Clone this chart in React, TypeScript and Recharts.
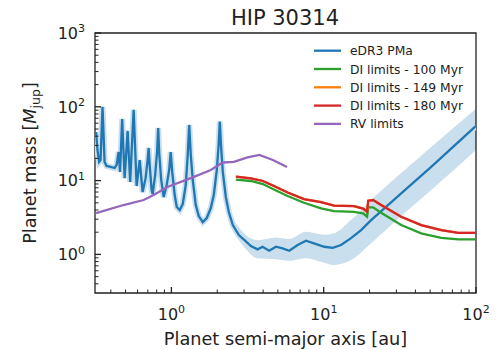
import { ComposedChart, Line, Area, XAxis, YAxis, ReferenceArea } from 'recharts';

// [semi-major axis (au), mass (Mjup)]
const pmaCurve: [number, number][] = [
  [0.32, 45.6], [0.327, 26], [0.335, 17.9], [0.3425, 19], [0.353, 100], [0.364, 17.9],
  [0.375, 15.8], [0.399, 15.3], [0.424, 14.8], [0.437, 16.3], [0.45, 24.4], [0.46, 13.1],
  [0.475, 68.5], [0.493, 10.8], [0.516, 47.1], [0.536, 9.57], [0.565, 90.8], [0.591, 8.45],
  [0.619, 19], [0.647, 7.0], [0.677, 10.8], [0.698, 19], [0.709, 27.7], [0.72, 16.3],
  [0.742, 7.4], [0.753, 6.58], [0.782, 11.9], [0.806, 25], [0.819, 51.7], [0.831, 24],
  [0.857, 10.2], [0.89, 5.99], [0.931, 8.71], [0.967, 13.9], [0.989, 24.4], [1.012, 13.1],
  [1.051, 6.38], [1.084, 4.38], [1.134, 3.99], [1.187, 4.81], [1.242, 8.71], [1.28, 22.3],
  [1.309, 56.8], [1.34, 22.3], [1.381, 10.2], [1.445, 4.67], [1.512, 3.31], [1.607, 2.74],
  [1.707, 3.11], [1.814, 4.25], [1.898, 6.38], [1.986, 13.9], [2.041, 30], [2.078, 63],
  [2.117, 30], [2.175, 13.1], [2.276, 6.0], [2.382, 3.75], [2.531, 2.5], [2.772, 1.83],
  [3.083, 1.5], [3.325, 1.3], [3.68, 1.17], [3.968, 1.27], [4.386, 1.12], [4.857, 1.27],
  [5.374, 1.21], [5.94, 1.12], [6.746, 1.34], [7.648, 1.53], [8.634, 1.41], [10.09, 1.27],
  [11.46, 1.23], [13.0, 1.34], [15.12, 1.66], [17.6, 2.14], [20.48, 2.92], [32.26, 6.7],
  [50.8, 15.4], [100, 55],
];

// [a, low, high]
const pmaBand: [number, number, number][] = [
  [2.53, 2.07, 3.01], [3.08, 1.18, 1.83], [3.68, 0.88, 1.56], [4.86, 0.86, 1.7],
  [5.94, 0.82, 1.62], [7.65, 0.89, 2.03], [10.09, 0.77, 1.85], [11.46, 0.72, 1.9],
  [15.12, 0.84, 2.92], [20.48, 1.42, 5.46], [32.26, 3.31, 12.7], [50.8, 7.45, 28.6],
  [100, 26, 94],
];

const di100: [number, number][] = [
  [2.649, 10.3], [3.325, 9.88], [3.987, 8.99], [4.638, 7.69], [5.797, 6.18], [7.419, 5.01],
  [9.599, 4.21], [11.69, 3.87], [15.82, 3.78], [18.14, 3.6], [19.27, 3.24], [19.6, 4.34],
  [21.1, 4.34], [23.82, 3.67], [32.26, 2.5], [43.67, 1.93], [59.1, 1.68], [76.5, 1.6],
  [100, 1.6],
];

const di180: [number, number][] = [
  [2.649, 11.3], [3.325, 10.7], [3.987, 9.88], [4.638, 8.58], [5.797, 6.9], [7.419, 5.63],
  [9.599, 5.12], [11.69, 4.59], [15.82, 4.52], [18.14, 4.18], [19.27, 3.78], [19.6, 5.34],
  [21.1, 5.46], [23.82, 4.67], [32.26, 3.24], [43.67, 2.5], [59.1, 2.14], [76.5, 1.96],
  [100, 1.96],
];

// 149 Myr curve sits underneath the 180 Myr one
const di149: [number, number][] = di180;

const rvLimits: [number, number][] = [
  [0.32, 3.63], [0.485, 4.67], [0.657, 5.46], [0.765, 6.38], [0.941, 8.19], [1.34, 10.8],
  [1.814, 13.9], [2.175, 17.6], [2.57, 17.9], [3.162, 20.6], [3.781, 22.3], [4.638, 19.0],
  [5.736, 15.3],
];

const xTicks = [0.4, 0.5, 0.6, 0.7, 0.8, 0.9, 1, 2, 3, 4, 5, 6, 7, 8, 9, 10, 20, 30, 40, 50, 60, 70, 80, 90, 100];
const yTicks = [
  0.4, 0.5, 0.6, 0.7, 0.8, 0.9, 1, 2, 3, 4, 5, 6, 7, 8, 9, 10, 20, 30, 40, 50, 60, 70, 80, 90,
  100, 200, 300, 400, 500, 600, 700, 800, 900, 1000,
];

const legendItems = [
  { label: 'eDR3 PMa', color: '#1f77b4' },
  { label: 'DI limits - 100 Myr', color: '#2ca02c' },
  { label: 'DI limits - 149 Myr', color: '#ff7f0e' },
  { label: 'DI limits - 180 Myr', color: '#d62728' },
  { label: 'RV limits', color: '#9467bd' },
];

const X_MIN = 0.315;
const X_MAX = 100;
const Y_MIN = 0.3;
const Y_MAX = 1000;
const INK = '#222';
const FONT = 'DejaVu Sans';
const BAND = '#cadfee';

const toPts = (arr: [number, number][]) => arr.map(([a, m]) => ({ a, m }));
const bandPts = pmaBand.map(([a, lo, hi]) => ({ a, range: [lo, hi] }));

const isMajor = (v: number) => Math.abs(Math.log10(v) - Math.round(Math.log10(v))) < 1e-6;

function XTick({ x, y, payload }: any) {
  const v = payload.value;
  const major = isMajor(v);
  return (
    <g>
      <line x1={x} x2={x} y1={y} y2={y - (major ? 6 : 3.5)} stroke={INK} strokeWidth={major ? 1.3 : 1} />
      {major && (
        <text x={x} y={y + 26.5} textAnchor="middle" fontSize={16} fill={INK} fontFamily={FONT}>
          10<tspan dy={-6.5} fontSize={11}>{Math.round(Math.log10(v))}</tspan>
        </text>
      )}
    </g>
  );
}

function YTick({ x, y, payload }: any) {
  const v = payload.value;
  const major = isMajor(v);
  return (
    <g>
      <line x1={x} x2={x + (major ? 6 : 3.5)} y1={y} y2={y} stroke={INK} strokeWidth={major ? 1.3 : 1} />
      {major && (
        <text x={x - 10} y={y + 5.7} textAnchor="end" fontSize={16} fill={INK} fontFamily={FONT}>
          10<tspan dy={-6.5} fontSize={11}>{Math.round(Math.log10(v))}</tspan>
        </text>
      )}
    </g>
  );
}

export default function App() {
  return (
    <div style={{ position: 'absolute', left: 0, top: 0, width: 502, height: 350, background: '#fff' }}>
      <ComposedChart width={502} height={350} margin={{ top: 33, right: 26, bottom: 27, left: 40 }}>
        <XAxis
          dataKey="a"
          type="number"
          scale="log"
          domain={[X_MIN, X_MAX]}
          allowDataOverflow
          ticks={xTicks}
          interval={0}
          height={30}
          tickSize={0}
          tickMargin={0}
          tickLine={false}
          axisLine={false}
          tick={<XTick />}
        />
        <YAxis
          type="number"
          scale="log"
          domain={[Y_MIN, Y_MAX]}
          allowDataOverflow
          ticks={yTicks}
          interval={0}
          width={55}
          tickSize={0}
          tickMargin={0}
          tickLine={false}
          axisLine={false}
          tick={<YTick />}
        />
        <Area
          data={bandPts}
          dataKey="range"
          type="monotone"
          stroke="none"
          fill={BAND}
          fillOpacity={1}
          isAnimationActive={false}
        />
        <Line data={toPts(pmaCurve)} dataKey="m" type="linear" stroke={BAND} strokeWidth={6}
          dot={false} activeDot={false} isAnimationActive={false} />
        <Line data={toPts(pmaCurve)} dataKey="m" type="linear" stroke="#1f77b4" strokeWidth={2.3}
          dot={false} activeDot={false} isAnimationActive={false} />
        <Line data={toPts(di100)} dataKey="m" type="linear" stroke="#2ca02c" strokeWidth={2.3}
          dot={false} activeDot={false} isAnimationActive={false} />
        <Line data={toPts(di149)} dataKey="m" type="linear" stroke="#ff7f0e" strokeWidth={2.3}
          dot={false} activeDot={false} isAnimationActive={false} />
        <Line data={toPts(di180)} dataKey="m" type="linear" stroke="#d62728" strokeWidth={2.3}
          dot={false} activeDot={false} isAnimationActive={false} />
        <Line data={toPts(rvLimits)} dataKey="m" type="linear" stroke="#9467bd" strokeWidth={2.3}
          dot={false} activeDot={false} isAnimationActive={false} />
        <ReferenceArea x1={X_MIN} x2={X_MAX} y1={Y_MIN} y2={Y_MAX} fill="none" fillOpacity={0}
          stroke={INK} strokeWidth={1.3} strokeOpacity={1} ifOverflow="visible" />
      </ComposedChart>
      <svg width={502} height={350} style={{ position: 'absolute', left: 0, top: 0, pointerEvents: 'none' }}>
        <text x={285} y={24.5} textAnchor="middle" fontSize={21} fill={INK} fontFamily={FONT}>HIP 30314</text>
        <text x={285.5} y={345} textAnchor="middle" fontSize={17.7} fill={INK} fontFamily={FONT}>
          Planet semi-major axis [au]
        </text>
        <text transform="translate(36,163) rotate(-90)" textAnchor="middle" fontSize={17.7} fill={INK} fontFamily={FONT}>
          Planet mass [<tspan fontStyle="italic">M</tspan>
          <tspan fontSize={12.5} dy={4}>jup</tspan>
          <tspan dy={-4}>]</tspan>
        </text>
        {legendItems.map((it, i) => {
          const cy = 50.7 + i * 18.3;
          return (
            <g key={it.label}>
              <line x1={314} x2={341} y1={cy} y2={cy} stroke={it.color} strokeWidth={2.3} />
              <text x={350} y={cy + 4.5} fontSize={12.3} fill={INK} fontFamily={FONT}>{it.label}</text>
            </g>
          );
        })}
      </svg>
    </div>
  );
}
